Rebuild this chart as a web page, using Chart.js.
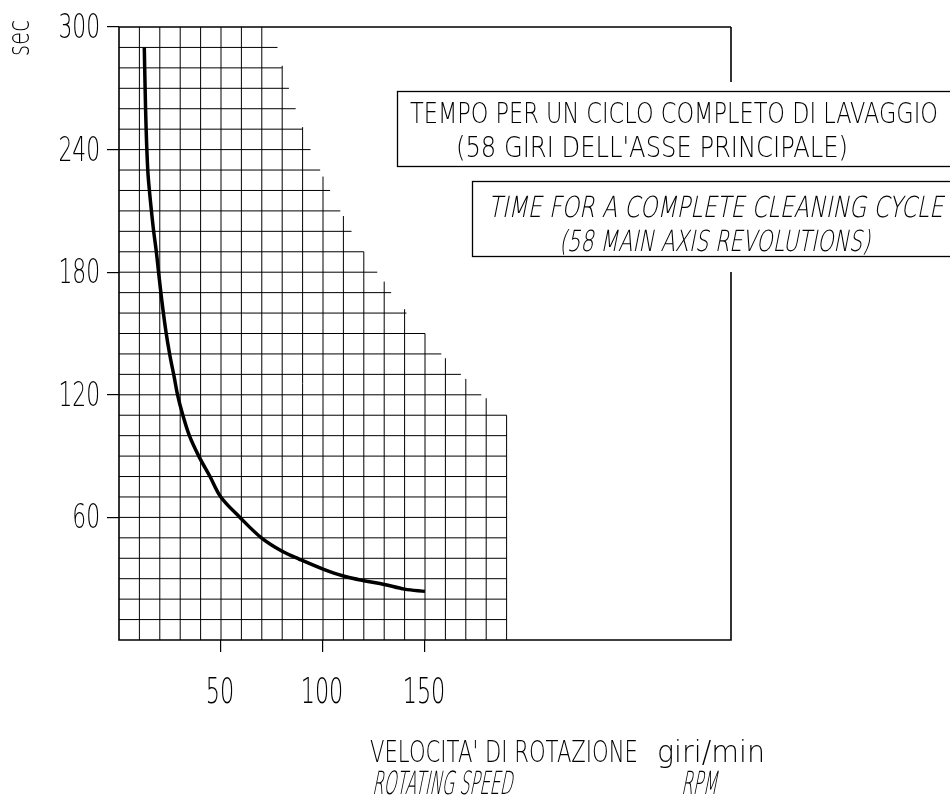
<!DOCTYPE html>
<html>
<head>
<meta charset="utf-8">
<script src="https://cdn.jsdelivr.net/npm/chart.js@4.4.1/dist/chart.umd.min.js"></script>
<style>
  html, body { margin: 0; padding: 0; background: #fff; }
  #wrap { width: 950px; height: 796px; position: relative; }
</style>
</head>
<body>
<div id="wrap"><canvas id="chart"></canvas></div>
<script>
// wash cycle time (58 turns of main axis) against rotating speed
const speedRpm = [12.4, 12.8, 13.3, 14.1, 14.9, 15.9, 17.0, 18.3, 19.4, 21, 23, 25, 27, 28.7, 31.3, 34.5, 39.1, 44.6, 49.9, 59.3, 69.8, 80, 88.5, 100, 110, 120, 130, 140, 150];
const cycleSec = [290, 270, 250, 230, 220, 210, 200, 190, 180, 166, 151, 139, 129, 120, 110, 100, 90, 80, 70, 60, 50, 43.4, 39.5, 34.7, 31.3, 29, 27.2, 24.9, 23.8];

const xTicks = [50, 100, 150];
const yTicks = [60, 120, 180, 240, 300];

// stepped grid: horizontal lines (sec) and the rpm where each one stops
const gridSec = [10, 20, 30, 40, 50, 60, 70, 80, 90, 100, 110, 120, 130, 140, 150, 160, 170, 180, 190, 200, 210, 220, 230, 240, 250, 260, 270, 280, 290];
const gridSecEnd = [190, 190, 190, 190, 190, 190, 190, 190, 190, 190, 190, 177.6, 167.6, 158, 150, 140.9, 133.4, 126.6, 120, 114, 108.5, 103.5, 98.6, 93.9, 90, 86.6, 83.3, 80, 77.7];
// vertical lines (rpm) and the sec where each one starts at the top
const gridRpm = [10, 20, 30, 40, 50, 60, 70, 80, 90, 100, 110, 120, 130, 140, 150, 160, 170, 180, 190];
const gridRpmTop = [300, 300, 300, 300, 300, 300, 300, 281, 251, 226.8, 207.5, 190, 175.4, 161.9, 150, 137.9, 127.8, 118.3, 110];

const noteIt = ['TEMPO PER UN CICLO COMPLETO DI LAVAGGIO', "(58 GIRI DELL'ASSE PRINCIPALE)"];
const noteEn = ['TIME FOR A COMPLETE CLEANING CYCLE', '(58 MAIN AXIS REVOLUTIONS)'];
const xTitleIt = ["VELOCITA' DI ROTAZIONE", 'giri/min'];
const xTitleEn = ['ROTATING SPEED', 'RPM'];
const yTitle = 'sec';

const cadFamily = '"DejaVu Sans", sans-serif';

// thin plotter-like text; either squeezed to a width or by a fixed factor
function cadText(ctx, str, x, base, size, o) {
  ctx.save();
  ctx.font = '200 ' + size + 'px ' + cadFamily;
  ctx.textAlign = 'left';
  ctx.textBaseline = 'alphabetic';
  ctx.fillStyle = '#000';
  const w = ctx.measureText(str).width;
  const k = o.width ? o.width / w : o.squeeze;
  let left = x;
  if (o.align === 'right') left = x - w * k;
  if (o.align === 'center') left = x - w * k / 2;
  ctx.translate(left, base);
  if (o.italic) ctx.transform(1, 0, -0.2, 1, 0, 0);
  ctx.scale(k, 1);
  ctx.fillText(str, 0, 0);
  ctx.restore();
}

const gridPlugin = {
  id: 'steppedGrid',
  beforeDatasetsDraw(chart) {
    const { ctx } = chart;
    const sx = chart.scales.x, sy = chart.scales.y;
    ctx.save();
    ctx.strokeStyle = '#000';
    ctx.lineWidth = 1;
    ctx.beginPath();
    gridSec.forEach((s, i) => {
      const py = sy.getPixelForValue(s);
      ctx.moveTo(sx.getPixelForValue(0), py);
      ctx.lineTo(sx.getPixelForValue(gridSecEnd[i]), py);
    });
    gridRpm.forEach((r, i) => {
      const px = sx.getPixelForValue(r);
      ctx.moveTo(px, sy.getPixelForValue(0));
      ctx.lineTo(px, sy.getPixelForValue(gridRpmTop[i]));
    });
    ctx.stroke();

    // outer frame
    const l = sx.getPixelForValue(0), r = sx.getPixelForValue(300);
    const t = sy.getPixelForValue(300), b = sy.getPixelForValue(0);
    ctx.lineWidth = 1.6;
    ctx.beginPath();
    ctx.moveTo(r, t); ctx.lineTo(l, t); ctx.lineTo(l, b); ctx.lineTo(r, b); ctx.lineTo(r, t);
    ctx.stroke();
    ctx.restore();
  },
  afterDraw(chart) {
    const { ctx } = chart;
    const sx = chart.scales.x, sy = chart.scales.y;

    // tick labels from the axis ticks
    sx.ticks.forEach((t) => {
      cadText(ctx, String(t.value), sx.getPixelForValue(t.value) - 1, 703, 36, { squeeze: 0.62, align: 'center' });
    });
    sy.ticks.forEach((t) => {
      cadText(ctx, String(t.value), 100, sy.getPixelForValue(t.value) + 11, 33, { squeeze: 0.66, align: 'right' });
    });

    ctx.save();
    // boxes cut the right border of the frame
    ctx.fillStyle = '#fff';
    ctx.fillRect(397, 82, 560, 190);
    ctx.strokeStyle = '#000';
    ctx.lineWidth = 1.3;
    ctx.strokeRect(397.5, 91.5, 600, 75);
    ctx.strokeRect(472.5, 181.5, 600, 75);
    ctx.restore();

    cadText(ctx, noteIt[0], 410, 123, 29, { width: 528 });
    cadText(ctx, noteIt[1], 456, 157, 29, { width: 392 });
    cadText(ctx, noteEn[0], 488, 217, 29, { width: 455, italic: true });
    cadText(ctx, noteEn[1], 559, 251, 29, { width: 311, italic: true });

    cadText(ctx, xTitleIt[0], 370, 762, 31, { width: 268 });
    cadText(ctx, xTitleIt[1], 657, 762, 31, { width: 108 });
    cadText(ctx, xTitleEn[0], 372, 794, 32, { width: 140, italic: true });
    cadText(ctx, xTitleEn[1], 681, 794, 32, { width: 36, italic: true });

    // rotated y title
    ctx.save();
    ctx.translate(29, 38);
    ctx.rotate(-Math.PI / 2);
    cadText(ctx, yTitle, 0, 0, 31, { width: 36, align: 'center' });
    ctx.restore();
  }
};

new Chart(document.getElementById('chart'), {
  type: 'scatter',
  data: {
    datasets: [{
      data: speedRpm.map((r, i) => ({ x: r, y: cycleSec[i] })),
      showLine: true,
      borderColor: '#000',
      borderWidth: 3.5,
      pointRadius: 0,
      tension: 0.35,
      fill: false,
    }],
  },
  options: {
    responsive: true,
    maintainAspectRatio: false,
    animation: false,
    layout: { padding: { left: 0, top: 27, right: 219, bottom: 0 } },
    plugins: { legend: { display: false }, tooltip: { enabled: false } },
    scales: {
      x: {
        type: 'linear',
        min: 0,
        max: 300,
        afterBuildTicks: (scale) => { scale.ticks = xTicks.map((v) => ({ value: v })); },
        afterFit: (scale) => { scale.height = 156; },
        border: { display: false },
        grid: { drawOnChartArea: false, drawTicks: true, tickLength: 12, color: '#000', lineWidth: 1.2 },
        ticks: { display: false },
      },
      y: {
        type: 'linear',
        min: 0,
        max: 300,
        afterBuildTicks: (scale) => { scale.ticks = yTicks.map((v) => ({ value: v })); },
        afterFit: (scale) => { scale.width = 119; },
        border: { display: false },
        grid: { drawOnChartArea: false, drawTicks: true, tickLength: 12, color: '#000', lineWidth: 1.2 },
        ticks: { display: false },
      },
    },
  },
  plugins: [gridPlugin],
});
</script>
</body>
</html>
